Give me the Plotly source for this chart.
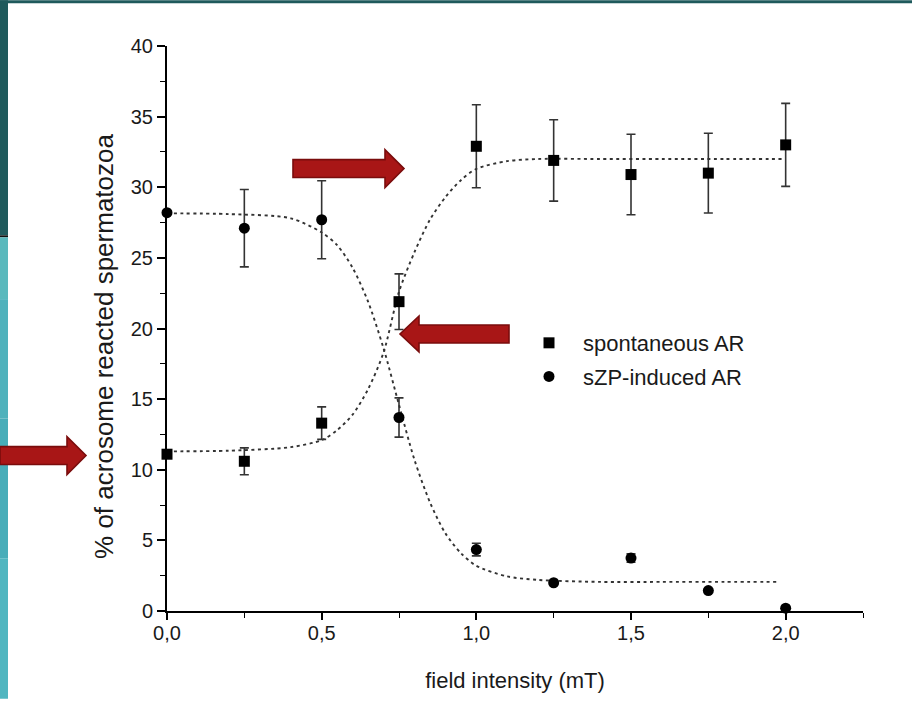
import plotly.graph_objects as go

# ---------------- data ----------------
field = [0.0, 0.25, 0.5, 0.75, 1.0, 1.25, 1.5, 1.75, 2.0]

spont_y = [11.1, 10.6, 13.3, 21.9, 32.9, 31.9, 30.9, 31.0, 33.0]
spont_err = [0.0, 0.95, 1.15, 1.97, 2.94, 2.88, 2.85, 2.82, 2.94]

szp_y = [28.2, 27.1, 27.7, 13.7, 4.35, 2.0, 3.75, 1.45, 0.2]
szp_err = [0.0, 2.74, 2.76, 1.39, 0.45, 0.0, 0.3, 0.0, 0.0]

fit_x = [0.0, 0.2, 0.4, 0.5, 0.55, 0.6, 0.65, 0.7, 0.75, 0.8, 0.85, 0.9,
         0.95, 1.0, 1.1, 1.2, 1.4, 1.6, 1.8, 2.0]
spont_fit = [11.3, 11.35, 11.6, 12.1, 12.8, 13.9, 15.7, 18.3, 22.6, 25.4,
             27.7, 29.3, 30.5, 31.3, 31.85, 32.0, 32.0, 32.0, 32.0, 32.0]
szp_fit_x = [0.0, 0.2, 0.4, 0.5, 0.55, 0.6, 0.65, 0.7, 0.75, 0.8, 0.85, 0.9,
             0.95, 1.0, 1.1, 1.2, 1.4, 1.6, 1.8, 1.98]
szp_fit = [28.15, 28.1, 27.8, 26.8, 25.9, 24.3, 21.9, 18.6, 14.6, 10.7,
           7.7, 5.5, 4.1, 3.2, 2.45, 2.2, 2.06, 2.06, 2.06, 2.06]

x_ticks = [0.0, 0.5, 1.0, 1.5, 2.0]
x_tick_labels = ["0,0", "0,5", "1,0", "1,5", "2,0"]
y_ticks = [0, 5, 10, 15, 20, 25, 30, 35, 40]
y_tick_labels = [str(v) for v in y_ticks]

series_names = ["spontaneous AR", "sZP-induced AR"]
x_title = "field intensity (mT)"
y_title = "% of acrosome reacted spermatozoa"

# ---------------- layout geometry ----------------
W, H = 912, 701
L, R, T, B = 167, 49, 46, 88
PW, PH = W - L - R, H - T - B


def px(x):
    return (x - L) / PW


def py(y):
    return (H - B - y) / PH


FONT = "Liberation Sans, Arial, Helvetica, sans-serif"
INK = "#1a1a1a"

fig = go.Figure()

fit_line = dict(color="#333333", width=1.9, dash="3px,3.5px", shape="spline", smoothing=0.8)
fig.add_trace(go.Scatter(x=fit_x, y=spont_fit, mode="lines", showlegend=False,
                         line=fit_line, hoverinfo="skip"))
fig.add_trace(go.Scatter(x=szp_fit_x, y=szp_fit, mode="lines", showlegend=False,
                         line=fit_line, hoverinfo="skip"))

fig.add_trace(go.Scatter(x=field, y=spont_y, mode="markers", name=series_names[0],
                         legendgroup="a", cliponaxis=False,
                         marker=dict(symbol="square", size=11, color="black"),
                         error_y=dict(type="data", array=spont_err, visible=True,
                                      color="#333333", thickness=1.6, width=4.5)))
fig.add_trace(go.Scatter(x=field, y=szp_y, mode="markers", name=series_names[1],
                         legendgroup="b", cliponaxis=False,
                         marker=dict(symbol="circle", size=11, color="black"),
                         error_y=dict(type="data", array=szp_err, visible=True,
                                      color="#333333", thickness=1.6, width=4.5)))

shapes = []
DARK = "#1f5a5c"


def rect(x0, y0, x1, y1, color):
    shapes.append(dict(type="rect", xref="paper", yref="paper",
                       x0=px(x0), x1=px(x1), y0=py(y1), y1=py(y0),
                       fillcolor=color, line=dict(width=0), layer="above"))


# slide background around the picture
rect(0, 0, W, 3, DARK)
rect(0, 0, 8, 236, DARK)
rect(0, 236, 8, 238, "#101010")
rect(0, 238, 8, 300, "#5ab9bd")
rect(0, 300, 8, 420, "#4fb2bc")
rect(0, 420, 8, 560, "#48adb9")
rect(0, 560, 8, H, "#50b6c0")


def arrow(points):
    d = "M " + " L ".join(f"{px(a):.5f},{py(b):.5f}" for a, b in points) + " Z"
    shapes.append(dict(type="path", xref="paper", yref="paper", path=d,
                       fillcolor="#a81616", line=dict(color="#7a0c0c", width=1.6),
                       layer="above"))


arrow([(293, 160), (385, 160), (385, 150), (404, 169), (385, 188), (385, 178), (293, 178)])
arrow([(509, 326), (419, 326), (419, 317), (400, 335), (419, 353), (419, 344), (509, 344)])
arrow([(0, 448), (67, 448), (67, 438), (86, 457), (67, 476), (67, 466), (0, 466)])

annotations = [
    dict(text=y_title, xref="paper", yref="paper", x=px(104), y=py(348),
         xanchor="center", yanchor="middle", textangle=-90, showarrow=False,
         font=dict(size=26, color=INK, family=FONT)),
]

fig.update_layout(
    width=W, height=H,
    margin=dict(l=L, r=R, t=T, b=B),
    paper_bgcolor="white", plot_bgcolor="white",
    font=dict(family=FONT, color=INK),
    shapes=shapes,
    annotations=annotations,
    showlegend=True,
    legend=dict(x=px(515), y=py(323), xanchor="left", yanchor="top",
                bgcolor="rgba(0,0,0,0)", font=dict(size=22, color=INK),
                traceorder="grouped", tracegroupgap=2, itemwidth=58),
    xaxis=dict(range=[0, 2.25], tickvals=x_ticks, ticktext=x_tick_labels,
               showgrid=False, zeroline=False, showline=True, linecolor="black",
               linewidth=2, ticks="outside", ticklen=7, tickwidth=1.6,
               tickcolor="black", tickfont=dict(size=20, color=INK),
               ticklabelstandoff=-4,
               minor=dict(dtick=0.25, ticks="outside", ticklen=5, tickwidth=1.4,
                          tickcolor="black", showgrid=False),
               title=dict(text=x_title, font=dict(size=22, color=INK),
                          standoff=30)),
    yaxis=dict(range=[0, 40], tickvals=y_ticks, ticktext=y_tick_labels,
               showgrid=False, zeroline=False, showline=True, linecolor="black",
               linewidth=2, ticks="outside", ticklen=8, tickwidth=1.6,
               tickcolor="black", tickfont=dict(size=20, color=INK),
               minor=dict(dtick=2.5, ticks="outside", ticklen=5, tickwidth=1.4,
                          tickcolor="black", showgrid=False)),
)

fig.write_html("out.html")
